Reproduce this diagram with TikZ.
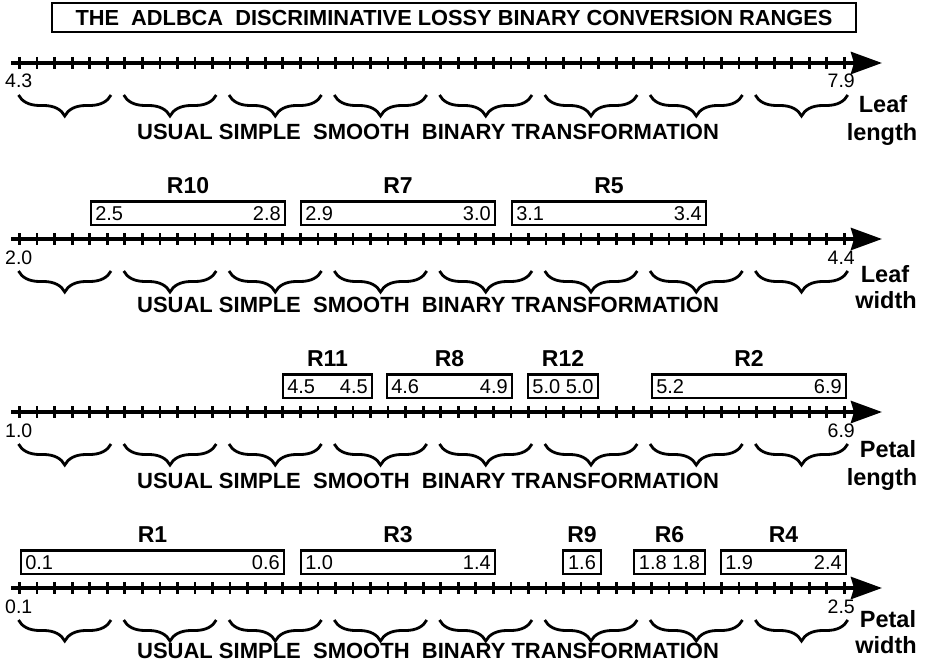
\documentclass[tikz,border=0pt]{standalone}
\usepackage{fontspec}
\setmainfont{Liberation Sans}
\usetikzlibrary{arrows.meta,decorations.pathreplacing}
\tikzset{
  axisline/.style={line width=4.2pt,-{Stealth[length=31pt,width=22pt,inset=3pt]}},
  tickline/.style={line width=2.7pt},
  bracepath/.style={line width=2.8pt,decorate,decoration={brace,mirror,amplitude=21pt}},
  rbox/.style={draw,line width=2.8pt,minimum height=23.5pt,inner sep=0pt},
  dig/.style={font=\fontsize{20}{22}\selectfont,inner sep=5.5pt},
  axlab/.style={font=\fontsize{19.5}{22}\selectfont,inner sep=0pt},
  rlab/.style={font=\fontsize{23}{26}\selectfont\bfseries,inner sep=0pt},
  toplab/.style={font=\fontsize{22}{26}\selectfont\bfseries,inner sep=0pt},
  sidelab/.style={font=\fontsize{23.5}{26}\selectfont\bfseries,inner sep=0pt},
  titlebox/.style={draw,line width=2.5pt,minimum width=804pt,minimum height=29pt,inner sep=0pt,
    font=\fontsize{21.8}{24}\selectfont\bfseries},
}
% axis row: #1 prefix, #2 axis y, #3 low label, #4 high label
\newcommand\axisrow[4]{%
  \coordinate (#1s) at (11,#2);
  \coordinate (#1e) at (882,#2);
  \draw[axisline] (#1s) -- (#1e);
  \foreach \k in {0,...,47}{\draw[tickline] (19.5+17.55*\k,#2-6) -- (19.5+17.55*\k,#2+6);}
  \foreach \i in {0,...,7}{\draw[bracepath] (18.5+105.25*\i,#2+32) -- (111+105.25*\i,#2+32);}
  \node[axlab,anchor=base west] (#1lo) at (5,#2+25) {#3};
  \node[axlab,anchor=base east] (#1hi) at (855,#2+25) {#4};
}
% range box with two end values: #1 name, #2 x1, #3 x2, #4 axis y, #5 label, #6 left, #7 right
\newcommand\rngbox[7]{%
  \pgfmathsetmacro\rw{#3-#2}%
  \pgfmathsetmacro\rc{(#2+#3)/2}%
  \node[rbox,minimum width=\rw pt] (#1) at (\rc,#4-25.75) {};
  \node[dig,anchor=west] (#1l) at (#1.west) {#6};
  \node[dig,anchor=east] (#1r) at (#1.east) {#7};
  \node[rlab,anchor=base] (#1t) at (\rc,#4-45.5) {#5};
}
% range box with centred text
\newcommand\rngboxc[6]{%
  \pgfmathsetmacro\rw{#3-#2}%
  \pgfmathsetmacro\rc{(#2+#3)/2}%
  \node[rbox,minimum width=\rw pt] (#1) at (\rc,#4-25.75) {};
  \node[dig,inner sep=0pt] (#1m) at (#1.center) {#6};
  \node[rlab,anchor=base] (#1t) at (\rc,#4-45.5) {#5};
}
\begin{document}
\begin{tikzpicture}[x=1pt,y=-1pt]
\useasboundingbox (0,0) rectangle (933,668);
\node[titlebox] (title) at (454,17.5) {THE\ \ ADLBCA\ \ DISCRIMINATIVE LOSSY BINARY CONVERSION RANGES};

% Row 1: Leaf length
\axisrow{a}{63}{4.3}{7.9}
\node[toplab,anchor=base] (at) at (428,140) {USUAL SIMPLE\ \ SMOOTH\ \ BINARY TRANSFORMATION};
\node[sidelab,anchor=base] (an1) at (883,112.5) {Leaf};
\node[sidelab,anchor=base] (an2) at (882,140.5) {length};

% Row 2: Leaf width
\axisrow{b}{239}{2.0}{4.4}
\node[toplab,anchor=base] (bt) at (428,312) {USUAL SIMPLE\ \ SMOOTH\ \ BINARY TRANSFORMATION};
\node[sidelab,anchor=base] (bn1) at (885,282) {Leaf};
\node[sidelab,anchor=base] (bn2) at (886,308) {width};
\rngbox{r10}{91}{285}{239}{R10}{2.5}{2.8}
\rngbox{r7}{301}{495}{239}{R7}{2.9}{3.0}
\rngbox{r5}{512}{706}{239}{R5}{3.1}{3.4}

% Row 3: Petal length
\axisrow{c}{412}{1.0}{6.9}
\node[toplab,anchor=base] (ct) at (428,488) {USUAL SIMPLE\ \ SMOOTH\ \ BINARY TRANSFORMATION};
\node[sidelab,anchor=base] (cn1) at (888,457) {Petal};
\node[sidelab,anchor=base] (cn2) at (882,485) {length};
\rngbox{r11}{283}{372}{412}{R11}{4.5}{4.5}
\rngbox{r8}{387}{512}{412}{R8}{4.6}{4.9}
\rngboxc{r12}{528}{598}{412}{R12}{5.0 5.0}
\rngbox{r2}{652}{846}{412}{R2}{5.2}{6.9}

% Row 4: Petal width
\axisrow{d}{588}{0.1}{2.5}
\node[toplab,anchor=base] (dt) at (428,658) {USUAL SIMPLE\ \ SMOOTH\ \ BINARY TRANSFORMATION};
\node[sidelab,anchor=base] (dn1) at (888,627) {Petal};
\node[sidelab,anchor=base] (dn2) at (886,653) {width};
\rngbox{r1}{21}{284}{588}{R1}{0.1}{0.6}
\rngbox{r3}{301}{495}{588}{R3}{1.0}{1.4}
\rngboxc{r9}{563}{601}{588}{R9}{1.6}
\rngboxc{r6}{634}{705}{588}{R6}{1.8 1.8}
\rngbox{r4}{721}{846}{588}{R4}{1.9}{2.4}
\end{tikzpicture}
\end{document}
